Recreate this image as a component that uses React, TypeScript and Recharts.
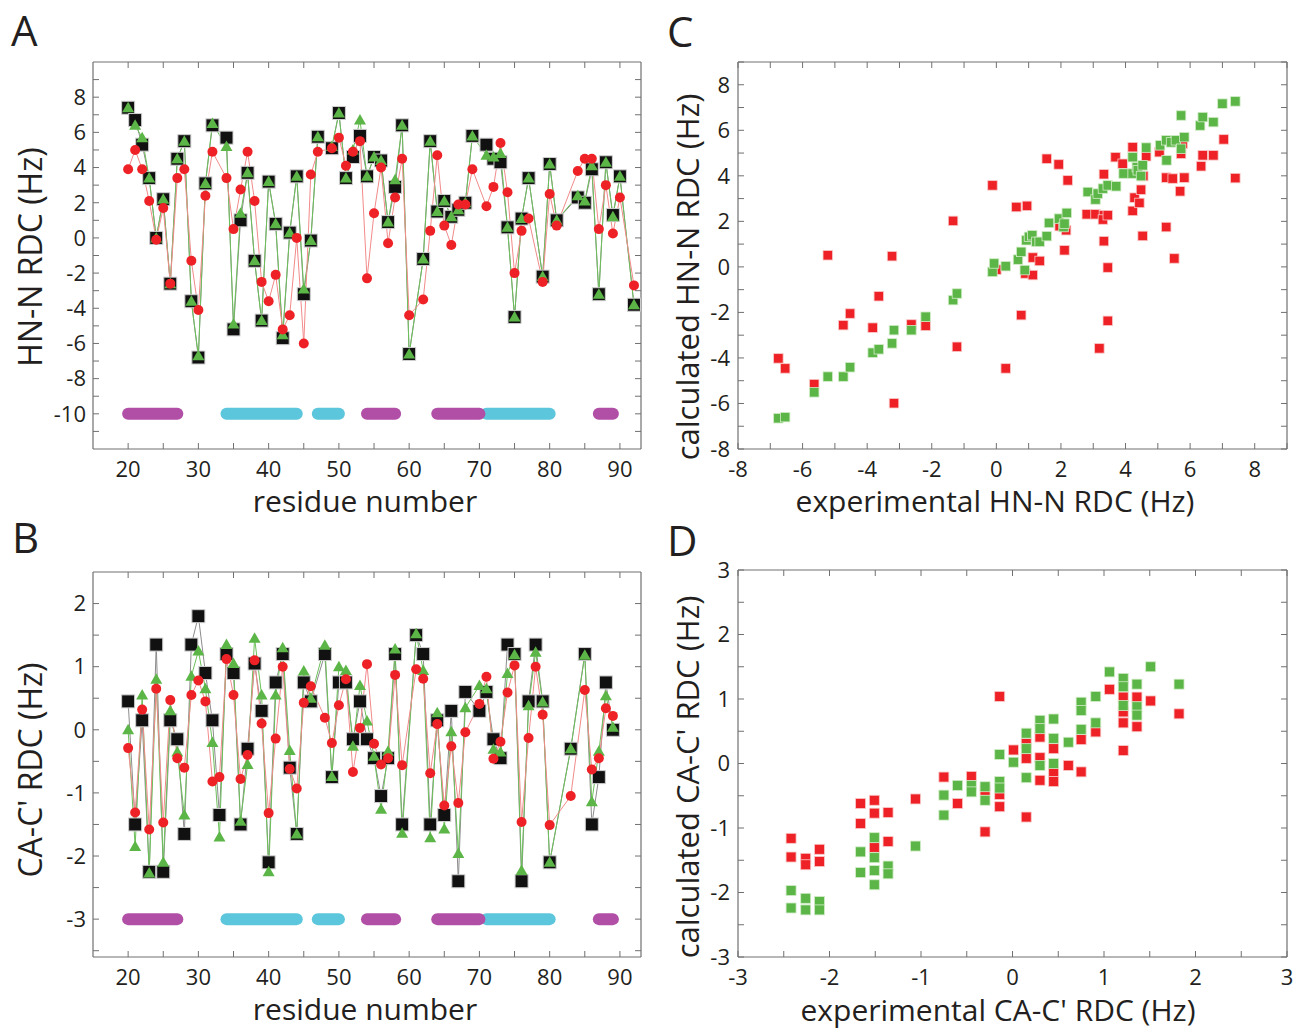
import React from "react";
import {
  ComposedChart,
  Line,
  XAxis,
  YAxis,
  ReferenceLine,
  ScatterChart,
  Scatter,
} from "recharts";

const FONT = "'Open Sans', 'Noto Sans', sans-serif";
const AXIS = "#707070";
const INK = "#231f20";
const BLACK = "#111111";
const GREEN = "#5cb647";
const RED = "#ee2226";
const MAGENTA = "#b14fa6";
const CYAN = "#5cc6dc";

// ---- panel A: HN-N RDC per residue ----
const hnRes = [
  20, 21, 22, 23, 24, 25, 26, 27, 28, 29, 30, 31, 32,
  34, 35, 36, 37, 38, 39, 40, 41, 42, 43, 44, 45, 46, 47,
  49, 50, 51, 52, 53, 54, 55, 56, 57, 58, 59, 60,
  62, 63, 64, 65, 66, 67, 68, 69,
  71, 72, 73, 74, 75, 76, 77,
  79, 80, 81,
  84, 85, 86, 87, 88, 89, 90,
  92,
];
const hnExp = [
  7.4, 6.7, 5.3, 3.4, 0.0, 2.2, -2.6, 4.5, 5.5, -3.6, -6.8, 3.1, 6.4,
  5.7, -5.2, 1.0, 3.7, -1.3, -4.7, 3.2, 0.8, -5.7, 0.3, 3.5, -3.2, -0.15, 5.75,
  5.1, 7.1, 3.4, 4.6, 5.8, 3.5, 4.6, 4.4, 0.9, 2.9, 6.4, -6.6,
  -1.2, 5.5, 1.5, 2.1, 1.2, 1.6, 2.0, 5.8,
  5.3, 4.5, 4.3, 0.6, -4.5, 1.1, 3.4,
  -2.2, 4.2, 1.0,
  2.3, 2.0, 3.9, -3.2, 4.3, 1.3, 3.5,
  -3.8,
];
const hnGreen = [
  7.4, 6.4, 5.7, 3.4, 0.0, 2.2, -2.6, 4.5, 5.5, -3.6, -6.7, 3.1, 6.5,
  5.2, -4.9, 1.4, 3.7, -1.3, -4.7, 3.2, 0.8, -5.5, 0.3, 3.5, -2.9, -0.15, 5.75,
  5.2, 7.1, 3.4, 5.0, 6.7, 3.5, 4.6, 4.4, 0.9, 3.3, 6.4, -6.6,
  -1.2, 5.5, 1.5, 2.1, 1.2, 1.6, 2.0, 5.8,
  4.7, 4.6, 4.8, 0.6, -4.5, 1.1, 3.4,
  -2.2, 4.2, 1.0,
  2.4, 2.1, 4.1, -3.2, 4.3, 1.2, 3.5,
  -3.8,
];
const hnRed = [
  3.9, 5.0, 3.9, 2.1, -0.1, 1.7, -2.6, 3.4, 3.9, -1.3, -4.1, 2.4, 4.9,
  3.4, 0.5, 2.75, 4.9, 2.1, -2.5, -3.6, -2.1, -5.2, -4.4, 0.0, -6.0, 3.6, 4.9,
  5.1, 5.7, 4.1, 4.9, 5.5, -2.3, 1.4, 4.0, -0.3, 2.3, 4.5, -4.4,
  -3.5, 0.4, 4.7, 0.7, -0.4, 1.9, 1.9, 3.9,
  1.8, 2.9, 5.4, 2.6, -2.0, 0.4, 1.1,
  -2.5, 2.5, 0.7,
  3.8, 4.5, 4.5, 0.5, 3.0, 0.25, 2.3,
  -2.7,
];

// ---- panel B: CA-C' RDC per residue ----
const caRes = [
  20, 21, 22, 23, 24, 25, 26, 27, 28, 29, 30, 31, 32, 33, 34, 35, 36, 37, 38, 39, 40, 41, 42, 43, 44, 45, 46,
  48, 49, 50, 51, 52, 53, 54, 55, 56, 57, 58, 59,
  61, 62, 63, 64, 65, 66, 67, 68,
  70, 71, 72, 73, 74, 75, 76, 77, 78, 79, 80,
  83,
  85, 86, 87, 88, 89,
];
const caExp = [
  0.45, -1.5, 0.15, -2.25, 1.35, -2.25, 0.15, -0.15, -1.65, 1.35, 1.8, 0.9, 0.15, -1.35, 1.2, 0.9, -1.5, -0.3, 1.05, 0.3, -2.1, 0.75, 1.2, -0.6, -1.65, 0.75, 0.45,
  1.2, -0.75, 0.75, 0.75, -0.15, 0.45, -0.15, -0.45, -1.05, -0.45, 1.2, -1.5,
  1.5, 1.2, -1.5, 0.15, -1.35, 0.3, -2.4, 0.6,
  0.3, 0.6, -0.15, -0.45, 1.35, 1.2, -2.4, 0.45, 1.35, 0.45, -2.1,
  -0.3,
  1.2, -1.5, -0.75, 0.75, 0.0,
];
const caGreen = [
  0.0, -1.85, 0.55, -2.27, 0.8, -2.1, 0.3, -0.35, -1.35, 0.85, 1.25, 0.65, -0.2, -1.7, 1.35, 1.05, -1.45, -0.55, 1.45, 0.55, -2.25, 0.55, 1.3, -0.33, -1.65, 0.93, 0.5,
  1.34, -0.74, 1.0, 0.94, -0.26, 0.7, 0.14, -0.42, -1.26, -0.34, 1.28, -1.64,
  1.52, 0.94, -1.71, 0.27, -1.57, -0.03, -1.96, 0.35,
  0.7, 0.65, -0.31, -0.35, 0.89, 1.19, -2.23, 0.38, 1.23, 0.44, -2.1,
  -0.3,
  1.18, -1.14, -0.34, 0.54, 0.04,
];
const caRed = [
  -0.29, -1.31, 0.32, -1.58, 0.65, -1.47, 0.47, -0.45, -0.6, 0.55, 0.78, 0.45, -0.82, -0.75, 1.12, 0.55, -0.78, -0.4, 1.1, 0.1, -1.32, -0.14, 1.0, -0.62, -0.93, 0.43, 0.69,
  0.19, -0.21, 0.39, 0.8, -0.67, 0.03, 1.04, -0.22, -0.55, -0.45, 0.87, -0.56,
  0.96, 0.81, -0.69, 0.09, -1.2, -0.26, -1.16, -0.04,
  0.41, 0.84, -0.46, -0.19, 0.59, 1.02, -1.46, -0.13, 1.0, 0.24, -1.51,
  -1.05,
  0.63, -0.63, -0.45, 0.34, 0.22,
];

// secondary structure (first, last residue)
const helixSeg = [[20, 27], [54, 58], [64, 70], [87, 89]];
const strandSeg = [[34, 44], [47, 50], [71, 80]];

// ---- panel C: calculated vs experimental HN-N [exp, calc] ----
const hnGreenPts: [number, number][] = [
  [-6.75, -6.65], [-6.54, -6.6], [-5.64, -5.51], [-5.22, -4.82], [-4.74, -4.82], [-4.53, -4.41],
  [-3.83, -3.77], [-3.64, -3.62], [-3.23, -3.36], [-3.17, -2.78], [-2.63, -2.78], [-2.19, -2.19],
  [-1.34, -1.46], [-1.22, -1.17], [-0.12, -0.22], [-0.07, 0.15], [0.29, 0.03], [0.67, 0.32],
  [0.77, 0.66], [0.88, -0.14], [0.93, 1.17], [1.01, 1.32], [1.11, 1.39], [1.24, 1.1], [1.34, 1.1],
  [1.56, 1.35], [1.63, 1.93], [1.94, 2.12], [2.08, 1.75], [2.11, 1.9], [2.18, 2.37], [2.83, 3.29],
  [3.07, 2.96], [3.14, 3.22], [3.3, 3.44], [3.45, 3.58], [3.71, 3.54], [3.94, 4.1], [4.22, 4.82],
  [4.22, 4.1], [4.35, 4.38], [4.38, 4.24], [4.48, 3.99], [4.53, 4.46], [4.64, 5.24], [5.07, 5.34],
  [5.26, 5.56], [5.27, 4.68], [5.41, 5.47], [5.56, 5.56], [5.72, 6.65], [5.72, 5.19], [5.82, 5.7],
  [6.31, 6.21], [6.39, 6.58], [6.72, 6.36], [7.0, 7.17], [7.4, 7.27],
];
const hnRedPts: [number, number][] = [
  [-6.75, -4.02], [-6.54, -4.46], [-5.64, -5.15], [-5.22, 0.51], [-4.74, -2.56], [-4.53, -2.05],
  [-3.83, -2.67], [-3.64, -1.29], [-3.23, 0.47], [-3.17, -5.99], [-2.63, -2.53], [-2.19, -2.59],
  [-1.34, 2.02], [-1.22, -3.51], [-0.12, 3.58], [0.0, -0.12], [0.29, -4.46], [0.77, -2.12],
  [0.62, 2.63], [0.95, 2.68], [0.9, -0.29], [1.13, -0.36], [1.13, 0.41], [1.34, 0.26], [1.56, 4.75],
  [1.93, 4.5], [2.21, 3.8], [1.96, 1.79], [2.16, 1.61], [2.11, 0.73], [2.8, 2.31], [3.07, 2.31],
  [3.33, 2.27], [3.3, 2.08], [3.45, 2.27], [3.33, 4.07], [3.33, 1.13], [3.45, -0.03], [3.45, -2.37],
  [3.19, -3.58], [3.69, 4.82], [3.91, 4.53], [4.22, 5.26], [4.22, 2.46], [4.28, 3.04], [4.43, 2.81],
  [4.48, 3.39], [4.53, 1.36], [4.64, 4.86], [4.55, 3.99], [5.05, 5.04], [5.26, 1.75], [5.26, 3.92],
  [5.46, 3.88], [5.51, 0.37], [5.69, 3.32], [5.72, 4.97], [5.82, 3.92], [5.77, 5.41], [6.34, 4.42],
  [6.39, 4.9], [6.72, 4.9], [7.04, 5.6], [7.4, 3.9],
];

// ---- panel D: calculated vs experimental CA-C' [exp, calc] ----
const caGreenPts: [number, number][] = [
  [-2.42, -1.97], [-2.42, -2.24], [-2.26, -2.09], [-2.26, -2.27], [-2.11, -2.14], [-2.11, -2.27],
  [-1.66, -1.37], [-1.66, -1.69], [-1.51, -1.15], [-1.51, -1.46], [-1.51, -1.66], [-1.51, -1.88],
  [-1.36, -1.59], [-1.36, -1.71], [-1.06, -1.28], [-0.75, -0.49], [-0.75, -0.8], [-0.6, -0.34],
  [-0.45, -0.34], [-0.45, -0.44], [-0.3, -0.36], [-0.3, -0.57], [-0.14, 0.14], [-0.14, -0.28],
  [-0.14, -0.38], [0.01, 0.02], [0.15, 0.47], [0.15, 0.23], [0.15, -0.22], [0.3, 0.67], [0.3, 0.54],
  [0.3, -0.03], [0.45, 0.69], [0.45, 0.39], [0.45, 0.0], [0.61, 0.33], [0.75, 0.95], [0.75, 0.82],
  [0.75, 0.53], [0.91, 1.04], [0.91, 0.63], [1.06, 1.42], [1.21, 1.32], [1.21, 1.19], [1.21, 0.9],
  [1.36, 1.23], [1.36, 0.88], [1.36, 0.75], [1.51, 1.5], [1.82, 1.23],
];
const caRedPts: [number, number][] = [
  [-2.42, -1.16], [-2.42, -1.45], [-2.26, -1.47], [-2.26, -1.57], [-2.11, -1.33], [-2.11, -1.52],
  [-1.66, -0.62], [-1.66, -0.93], [-1.51, -0.57], [-1.51, -0.77], [-1.51, -1.3], [-1.36, -0.76],
  [-1.36, -1.21], [-1.06, -0.55], [-0.75, -0.21], [-0.6, -0.62], [-0.45, -0.2], [-0.3, -0.42],
  [-0.3, -1.06], [-0.14, 1.04], [-0.14, -0.48], [-0.14, -0.67], [0.01, 0.21], [0.15, 0.08],
  [0.15, -0.83], [0.15, 0.31], [0.3, 0.41], [0.3, 0.09], [0.3, -0.26], [0.45, 0.23], [0.45, -0.13],
  [0.45, -0.28], [0.61, -0.03], [0.75, 0.37], [0.75, -0.13], [0.91, 0.49], [1.06, 1.15], [1.21, 1.03],
  [1.21, 0.8], [1.21, 0.63], [1.21, 0.2], [1.36, 1.03], [1.36, 0.57], [1.51, 0.97], [1.82, 0.77],
];

// ticks
const resTicks = [20, 25, 30, 35, 40, 45, 50, 55, 60, 65, 70, 75, 80, 85, 90];
const hnTicks = [-11, -10, -9, -8, -7, -6, -5, -4, -3, -2, -1, 0, 1, 2, 3, 4, 5, 6, 7, 8, 9];
const caTicks = [-3.5, -3, -2.5, -2, -1.5, -1, -0.5, 0, 0.5, 1, 1.5, 2];
const hnCorrTicks = [-8, -7, -6, -5, -4, -3, -2, -1, 0, 1, 2, 3, 4, 5, 6, 7, 8, 9];
const caCorrTicks = [-3, -2.5, -2, -1.5, -1, -0.5, 0, 0.5, 1, 1.5, 2, 2.5, 3];

const blank = () => "";
const resFmt = (v: number) => (v % 10 === 0 ? String(v) : "");
const hnFmt = (v: number) => (v % 2 === 0 && v >= -10 && v <= 8 ? String(v) : "");
const intFmt = (v: number) => (Number.isInteger(v) ? String(v) : "");
const evenFmt = (v: number) => (v % 2 === 0 && v <= 8 ? String(v) : "");

const axisStyle = {
  axisLine: { stroke: AXIS, strokeWidth: 1.2 },
  tickLine: { stroke: AXIS, strokeWidth: 1 },
  tickSize: -6,
  tick: { fill: INK, fontSize: 22, fontFamily: FONT },
};

const squareDot = (p: any) =>
  p.cx == null || p.cy == null ? (
    <g key={p.index} />
  ) : (
    <rect key={p.index} x={p.cx - 6.5} y={p.cy - 6.5} width={13} height={13} fill={BLACK} stroke="#cfcfcf" strokeWidth={1} />
  );
const triangleDot = (p: any) =>
  p.cx == null || p.cy == null ? (
    <g key={p.index} />
  ) : (
    <path key={p.index} d={`M${p.cx},${p.cy - 6}L${p.cx + 6},${p.cy + 4.5}L${p.cx - 6},${p.cy + 4.5}Z`} fill={GREEN} />
  );
const circleDot = (p: any) =>
  p.cx == null || p.cy == null ? <g key={p.index} /> : <circle key={p.index} cx={p.cx} cy={p.cy} r={5} fill={RED} />;

const squareShape = (fill: string, edge: string, s: number) => (p: any) =>
  <rect x={p.cx - s / 2} y={p.cy - s / 2} width={s} height={s} fill={fill} stroke={edge} strokeWidth={0.8} />;
const noShape = () => <g />;

interface ResidueProps {
  res: number[];
  exp: number[];
  green: number[];
  red: number[];
  top: number;
  height: number;
  plotTop: number;
  plotBottom: number;
  yDomain: [number, number];
  yTicks: number[];
  yFmt: (v: number) => string;
  ssY: number;
}

function ResiduePanel(p: ResidueProps) {
  const data = p.res.map((r, i) => ({ res: r, exp: p.exp[i], green: p.green[i], red: p.red[i] }));
  return (
    <div style={{ position: "absolute", left: 0, top: p.top, width: 650, height: p.height }}>
      <ComposedChart
        width={650}
        height={p.height}
        data={data}
        margin={{ top: p.plotTop - p.top - 1, right: 8, bottom: 0, left: 0 }}
      >
        <XAxis
          dataKey="res"
          type="number"
          domain={[15, 93]}
          ticks={resTicks}
          interval={0}
          tickFormatter={resFmt}
          height={p.top + p.height - p.plotBottom}
          tickMargin={18}
          {...axisStyle}
        />
        <XAxis xAxisId="top" orientation="top" dataKey="res" type="number" domain={[15, 93]} ticks={resTicks} interval={0} tickFormatter={blank} height={1} {...axisStyle} />
        <YAxis type="number" domain={p.yDomain} ticks={p.yTicks} interval={0} tickFormatter={p.yFmt} width={93} tickMargin={13} {...axisStyle} />
        <YAxis yAxisId="right" orientation="right" type="number" domain={p.yDomain} ticks={p.yTicks} interval={0} tickFormatter={blank} width={1} {...axisStyle} />
        {strandSeg.map(([a, b]) => (
          <ReferenceLine key={"s" + a} segment={[{ x: a, y: p.ssY }, { x: b, y: p.ssY }]} stroke={CYAN} strokeWidth={12} strokeLinecap="round" />
        ))}
        {helixSeg.map(([a, b]) => (
          <ReferenceLine key={"h" + a} segment={[{ x: a, y: p.ssY }, { x: b, y: p.ssY }]} stroke={MAGENTA} strokeWidth={12} strokeLinecap="round" />
        ))}
        {/* invisible series so the mirrored frame axes get drawn */}
        <Line xAxisId="top" yAxisId="right" dataKey="exp" stroke="none" dot={false} activeDot={false} isAnimationActive={false} />
        <Line dataKey="exp" type="linear" stroke="#8c8c8c" strokeWidth={1} dot={squareDot} activeDot={false} isAnimationActive={false} />
        <Line dataKey="green" type="linear" stroke="#6cc05a" strokeWidth={1} dot={triangleDot} activeDot={false} isAnimationActive={false} />
        <Line dataKey="red" type="linear" stroke="#f28a8a" strokeWidth={1} dot={circleDot} activeDot={false} isAnimationActive={false} />
      </ComposedChart>
    </div>
  );
}

interface CorrProps {
  green: [number, number][];
  red: [number, number][];
  top: number;
  height: number;
  plotTop: number;
  plotBottom: number;
  domain: [number, number];
  ticks: number[];
  fmt: (v: number) => string;
  size: number;
}

function CorrPanel(p: CorrProps) {
  const g = p.green.map(([x, y]) => ({ x, y }));
  const r = p.red.map(([x, y]) => ({ x, y }));
  return (
    <div style={{ position: "absolute", left: 650, top: p.top, width: 643, height: p.height }}>
      <ScatterChart width={643} height={p.height} margin={{ top: p.plotTop - p.top - 1, right: 5, bottom: 0, left: 0 }}>
        <XAxis
          dataKey="x"
          type="number"
          domain={p.domain}
          ticks={p.ticks}
          interval={0}
          tickFormatter={p.fmt}
          height={p.top + p.height - p.plotBottom}
          tickMargin={18}
          {...axisStyle}
        />
        <XAxis xAxisId="top" orientation="top" dataKey="x" type="number" domain={p.domain} ticks={p.ticks} interval={0} tickFormatter={blank} height={1} {...axisStyle} />
        <YAxis dataKey="y" type="number" domain={p.domain} ticks={p.ticks} interval={0} tickFormatter={p.fmt} width={88} tickMargin={14} {...axisStyle} />
        <YAxis yAxisId="right" orientation="right" dataKey="y" type="number" domain={p.domain} ticks={p.ticks} interval={0} tickFormatter={blank} width={1} {...axisStyle} />
        <Scatter xAxisId="top" yAxisId="right" data={g} shape={noShape} isAnimationActive={false} />
        <Scatter data={r} fill={RED} shape={squareShape(RED, "#f9c9c9", p.size)} isAnimationActive={false} />
        <Scatter data={g} fill={GREEN} shape={squareShape(GREEN, "#d3ecc9", p.size)} isAnimationActive={false} />
      </ScatterChart>
    </div>
  );
}

export default function App() {
  const letter = { fill: INK, fontSize: 42, fontFamily: FONT };
  const title = { fill: INK, fontSize: 30, fontFamily: FONT, textAnchor: "middle" as const };
  const ytitle = { ...title, fontSize: 32 };
  return (
    <div style={{ position: "absolute", left: 0, top: 0, width: 1293, height: 1031, background: "#fff" }}>
      <svg width={1293} height={1031} style={{ position: "absolute", left: 0, top: 0 }}>
        <text x={11} y={46} {...letter}>A</text>
        <text x={12} y={553} {...letter}>B</text>
        <text x={667} y={47} {...letter}>C</text>
        <text x={667} y={556} {...letter}>D</text>
        <text x={365} y={512} {...title}>residue number</text>
        <text x={365} y={1020} {...title}>residue number</text>
        <text x={995} y={512} {...title}>experimental HN-N RDC (Hz)</text>
        <text x={998} y={1021} {...title}>experimental CA-C' RDC (Hz)</text>
        <text transform="translate(42,257) rotate(-90)" {...ytitle}>HN-N RDC (Hz)</text>
        <text transform="translate(42,770) rotate(-90)" {...ytitle}>CA-C' RDC (Hz)</text>
        <text transform="translate(699,277) rotate(-90)" {...title} fontSize={31}>calculated HN-N RDC (Hz)</text>
        <text transform="translate(699,777) rotate(-90)" {...title} fontSize={31}>calculated CA-C' RDC (Hz)</text>
      </svg>
      <ResiduePanel
        res={hnRes}
        exp={hnExp}
        green={hnGreen}
        red={hnRed}
        top={0}
        height={520}
        plotTop={62}
        plotBottom={449}
        yDomain={[-12, 10]}
        yTicks={hnTicks}
        yFmt={hnFmt}
        ssY={-10}
      />
      <ResiduePanel
        res={caRes}
        exp={caExp}
        green={caGreen}
        red={caRed}
        top={520}
        height={511}
        plotTop={572}
        plotBottom={957}
        yDomain={[-3.6, 2.5]}
        yTicks={caTicks}
        yFmt={intFmt}
        ssY={-3}
      />
      <CorrPanel
        green={hnGreenPts}
        red={hnRedPts}
        top={0}
        height={520}
        plotTop={62}
        plotBottom={449}
        domain={[-8, 9]}
        ticks={hnCorrTicks}
        fmt={evenFmt}
        size={9.5}
      />
      <CorrPanel
        green={caGreenPts}
        red={caRedPts}
        top={520}
        height={511}
        plotTop={570}
        plotBottom={957}
        domain={[-3, 3]}
        ticks={caCorrTicks}
        fmt={intFmt}
        size={10}
      />
    </div>
  );
}
